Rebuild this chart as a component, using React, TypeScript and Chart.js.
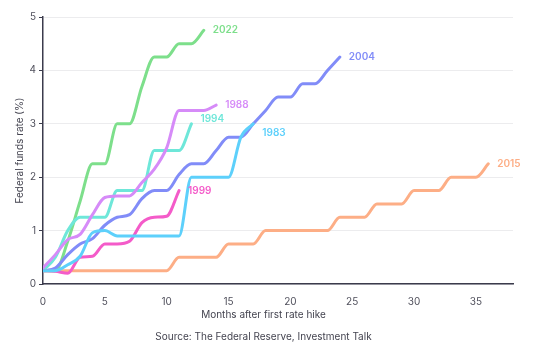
import React, { useEffect, useRef } from 'react';
import { Chart, registerables } from 'chart.js';

Chart.register(...registerables);

// Federal funds rate change (%) by month after first hike
const series1983 = [0.25, 0.25, 0.36, 0.52, 0.96, 1.0, 0.9, 0.9, 0.9, 0.9, 0.9, 0.9, 2.0, 2.0, 2.0, 2.0, 2.75, 3.0];
const series1988 = [0.3, 0.55, 0.83, 0.93, 1.3, 1.62, 1.65, 1.65, 1.9, 2.15, 2.55, 3.25, 3.25, 3.25, 3.35];
const series1994 = [0.25, 0.5, 1.0, 1.25, 1.25, 1.25, 1.75, 1.75, 1.75, 2.5, 2.5, 2.5, 3.0];
const series1999 = [0.25, 0.24, 0.2, 0.5, 0.52, 0.75, 0.75, 0.8, 1.15, 1.25, 1.27, 1.75];
const series2004 = [0.25, 0.3, 0.55, 0.75, 0.85, 1.1, 1.25, 1.3, 1.6, 1.75, 1.75, 2.05, 2.25, 2.25, 2.5, 2.75, 2.75, 3.0, 3.25, 3.5, 3.5, 3.75, 3.75, 4.0, 4.25];
const series2015 = [
  0.25, 0.25, 0.25, 0.25, 0.25, 0.25, 0.25, 0.25, 0.25, 0.25, 0.25,
  0.5, 0.5, 0.5, 0.5,
  0.75, 0.75, 0.75,
  1.0, 1.0, 1.0, 1.0, 1.0, 1.0,
  1.25, 1.25, 1.25,
  1.5, 1.5, 1.5,
  1.75, 1.75, 1.75,
  2.0, 2.0, 2.0,
  2.25,
];
const series2022 = [0.25, 0.25, 0.8, 1.55, 2.25, 2.25, 3.0, 3.0, 3.7, 4.25, 4.25, 4.5, 4.5, 4.75];

const seriesNames = ['1983', '1999', '1988', '1994', '2004', '2022', '2015'];
const seriesValues = [series1983, series1999, series1988, series1994, series2004, series2022, series2015];
const seriesColors = ['#5dd0fb', '#f45bc9', '#d68bf8', '#6ee7d9', '#818cf8', '#7ddf8b', '#fdae86'];
const labelDy = [9, 0, 0, -5, 0, 0, 0];

const xTickStep = 5;
const xMax = 38;
const yMax = 5;
const xTitle = 'Months after first rate hike';
const yTitle = 'Federal funds rate (%)';
const sourceText = 'Source: The Federal Reserve, Investment Talk';

const FONT = 'Inter, "Noto Sans", sans-serif';

const endLabels = {
  id: 'endLabels',
  afterDatasetsDraw(chart: any) {
    const ctx = chart.ctx;
    ctx.save();
    ctx.font = `600 10px ${FONT}`;
    ctx.textBaseline = 'middle';
    ctx.textAlign = 'left';
    chart.data.datasets.forEach((ds: any, i: number) => {
      const meta = chart.getDatasetMeta(i);
      const pt = meta.data[meta.data.length - 1];
      if (!pt) return;
      ctx.fillStyle = ds.borderColor;
      ctx.fillText(ds.label, pt.x + 9, pt.y + labelDy[i]);
    });
    ctx.restore();
  },
};

export default function App() {
  const ref = useRef<HTMLCanvasElement | null>(null);

  useEffect(() => {
    if (!ref.current) return;
    const chart = new Chart(ref.current, {
      type: 'line',
      data: {
        datasets: seriesNames.map((name, i) => ({
          label: name,
          data: seriesValues[i].map((v, m) => ({ x: m, y: v })),
          borderColor: seriesColors[i],
          backgroundColor: seriesColors[i],
          borderWidth: 3,
          pointRadius: 0,
          cubicInterpolationMode: 'monotone' as const,
          borderCapStyle: 'round' as const,
          borderJoinStyle: 'round' as const,
          fill: false,
        })),
      },
      options: {
        responsive: false,
        animation: false,
        devicePixelRatio: 1,
        layout: { padding: { left: 14, top: 17, right: 25, bottom: 10 } },
        plugins: {
          legend: { display: false },
          tooltip: { enabled: false },
          subtitle: {
            display: true,
            position: 'bottom',
            text: xTitle,
            color: '#444450',
            font: { family: FONT, size: 10, weight: 'normal' },
            padding: { top: 2, bottom: 0 },
          },
          title: {
            display: true,
            position: 'bottom',
            text: sourceText,
            color: '#444450',
            font: { family: FONT, size: 10, weight: 'normal' },
            padding: { top: 10, bottom: 0 },
          },
        },
        scales: {
          x: {
            type: 'linear',
            min: 0,
            max: xMax,
            grid: { display: false },
            border: { display: true, color: '#3b3b4c', width: 1.5 },
            ticks: {
              stepSize: xTickStep,
              includeBounds: false,
              padding: 4,
              color: '#50505c',
              font: { family: FONT, size: 10 },
            },
            afterFit: (s: any) => { s.height = 23; },
          },
          y: {
            type: 'linear',
            min: 0,
            max: yMax,
            grid: { color: '#ececee', lineWidth: 1, tickColor: '#3b3b4c', tickLength: 4, drawTicks: true },
            border: { display: true, color: '#3b3b4c', width: 1.5 },
            ticks: {
              stepSize: 1,
              padding: 3,
              color: '#50505c',
              font: { family: FONT, size: 10 },
            },
            title: {
              display: true,
              text: yTitle,
              color: '#444450',
              font: { family: FONT, size: 10 },
              padding: { top: 0, bottom: 0 },
            },
            afterFit: (s: any) => { s.width = 29; },
          },
        },
      },
      plugins: [endLabels],
    });
    return () => chart.destroy();
  }, []);

  return (
    <div style={{ position: 'fixed', left: 0, top: 0, width: 538, height: 353, background: '#fff' }}>
      <canvas ref={ref} width={538} height={353} style={{ display: 'block' }} />
    </div>
  );
}
